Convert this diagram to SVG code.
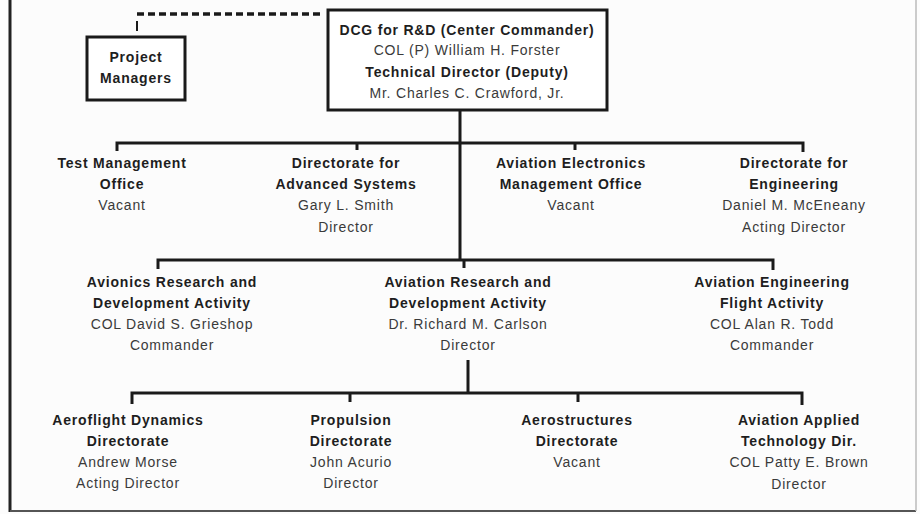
<svg xmlns="http://www.w3.org/2000/svg" width="920" height="514" viewBox="0 0 920 514">
<style>
.b{font-family:"Liberation Sans",Arial,sans-serif;font-size:14px;letter-spacing:0.8px;font-weight:bold;fill:#1e1e1e;text-anchor:middle}
.r{font-family:"Liberation Sans",Arial,sans-serif;font-size:14px;letter-spacing:0.8px;fill:#3a3a3a;text-anchor:middle}
.ln{stroke:#1a1a1a;stroke-width:3;fill:none}
.box{stroke:#1a1a1a;stroke-width:3;fill:#fff}
</style>
<rect x="0" y="0" width="920" height="514" fill="#fcfcfc"/>
<g id="frame">
<line x1="10" y1="0" x2="10" y2="512" stroke="#222" stroke-width="3"/>
<line x1="10" y1="511" x2="916" y2="511" stroke="#555" stroke-width="2"/>
<line x1="916" y1="0" x2="916" y2="511" stroke="#bbb" stroke-width="1.5"/>
</g>
<g id="connectors">
<path d="M137 14 H322" stroke="#1a1a1a" stroke-width="3.5" stroke-dasharray="7,4" fill="none"/>
<path d="M137 21 V31" stroke="#1a1a1a" stroke-width="2" fill="none"/>
<path class="ln" d="M460 110 V260"/>
<path class="ln" d="M117 151 V143 H803 V152"/>
<path class="ln" d="M357 143 V150"/>
<path class="ln" d="M575 143 V150"/>
<path class="ln" d="M158 269 V260 H773 V270"/>
<path class="ln" d="M464 260 V268"/>
<path class="ln" d="M468 360 V393"/>
<path class="ln" d="M132 404 V393 H802 V405"/>
<path class="ln" d="M350 393 V402"/>
<path class="ln" d="M578 393 V402"/>
</g>
<g id="project-managers">
<rect class="box" x="87" y="37" width="98" height="63"/>
<text class="b" x="136" y="62">Project</text>
<text class="b" x="136" y="83">Managers</text>
</g>
<g id="dcg">
<rect class="box" x="328" y="10" width="279" height="100"/>
<text class="b" x="467" y="35">DCG for R&amp;D (Center Commander)</text>
<text class="r" x="467" y="55">COL (P) William H. Forster</text>
<text class="b" x="467" y="77">Technical Director (Deputy)</text>
<text class="r" x="467" y="98">Mr. Charles C. Crawford, Jr.</text>
</g>
<g id="test-management">
<text class="b" x="122" y="168">Test Management</text>
<text class="b" x="122" y="189">Office</text>
<text class="r" x="122" y="210">Vacant</text>
</g>
<g id="advanced-systems">
<text class="b" x="346" y="168">Directorate for</text>
<text class="b" x="346" y="189">Advanced Systems</text>
<text class="r" x="346" y="210">Gary L. Smith</text>
<text class="r" x="346" y="232">Director</text>
</g>
<g id="aviation-electronics">
<text class="b" x="571" y="168">Aviation Electronics</text>
<text class="b" x="571" y="189">Management Office</text>
<text class="r" x="571" y="210">Vacant</text>
</g>
<g id="engineering">
<text class="b" x="794" y="168">Directorate for</text>
<text class="b" x="794" y="189">Engineering</text>
<text class="r" x="794" y="210">Daniel M. McEneany</text>
<text class="r" x="794" y="232">Acting Director</text>
</g>
<g id="avionics-rda">
<text class="b" x="172" y="287">Avionics Research and</text>
<text class="b" x="172" y="308">Development Activity</text>
<text class="r" x="172" y="329">COL David S. Grieshop</text>
<text class="r" x="172" y="350">Commander</text>
</g>
<g id="aviation-rda">
<text class="b" x="468" y="287">Aviation Research and</text>
<text class="b" x="468" y="308">Development Activity</text>
<text class="r" x="468" y="329">Dr. Richard M. Carlson</text>
<text class="r" x="468" y="350">Director</text>
</g>
<g id="aefa">
<text class="b" x="772" y="287">Aviation Engineering</text>
<text class="b" x="772" y="308">Flight Activity</text>
<text class="r" x="772" y="329">COL Alan R. Todd</text>
<text class="r" x="772" y="350">Commander</text>
</g>
<g id="aeroflight">
<text class="b" x="128" y="425">Aeroflight Dynamics</text>
<text class="b" x="128" y="446">Directorate</text>
<text class="r" x="128" y="467">Andrew Morse</text>
<text class="r" x="128" y="488">Acting Director</text>
</g>
<g id="propulsion">
<text class="b" x="351" y="425">Propulsion</text>
<text class="b" x="351" y="446">Directorate</text>
<text class="r" x="351" y="467">John Acurio</text>
<text class="r" x="351" y="488">Director</text>
</g>
<g id="aerostructures">
<text class="b" x="577" y="425">Aerostructures</text>
<text class="b" x="577" y="446">Directorate</text>
<text class="r" x="577" y="467">Vacant</text>
</g>
<g id="applied-tech">
<text class="b" x="799" y="425">Aviation Applied</text>
<text class="b" x="799" y="446">Technology Dir.</text>
<text class="r" x="799" y="467">COL Patty E. Brown</text>
<text class="r" x="799" y="489">Director</text>
</g>
</svg>
